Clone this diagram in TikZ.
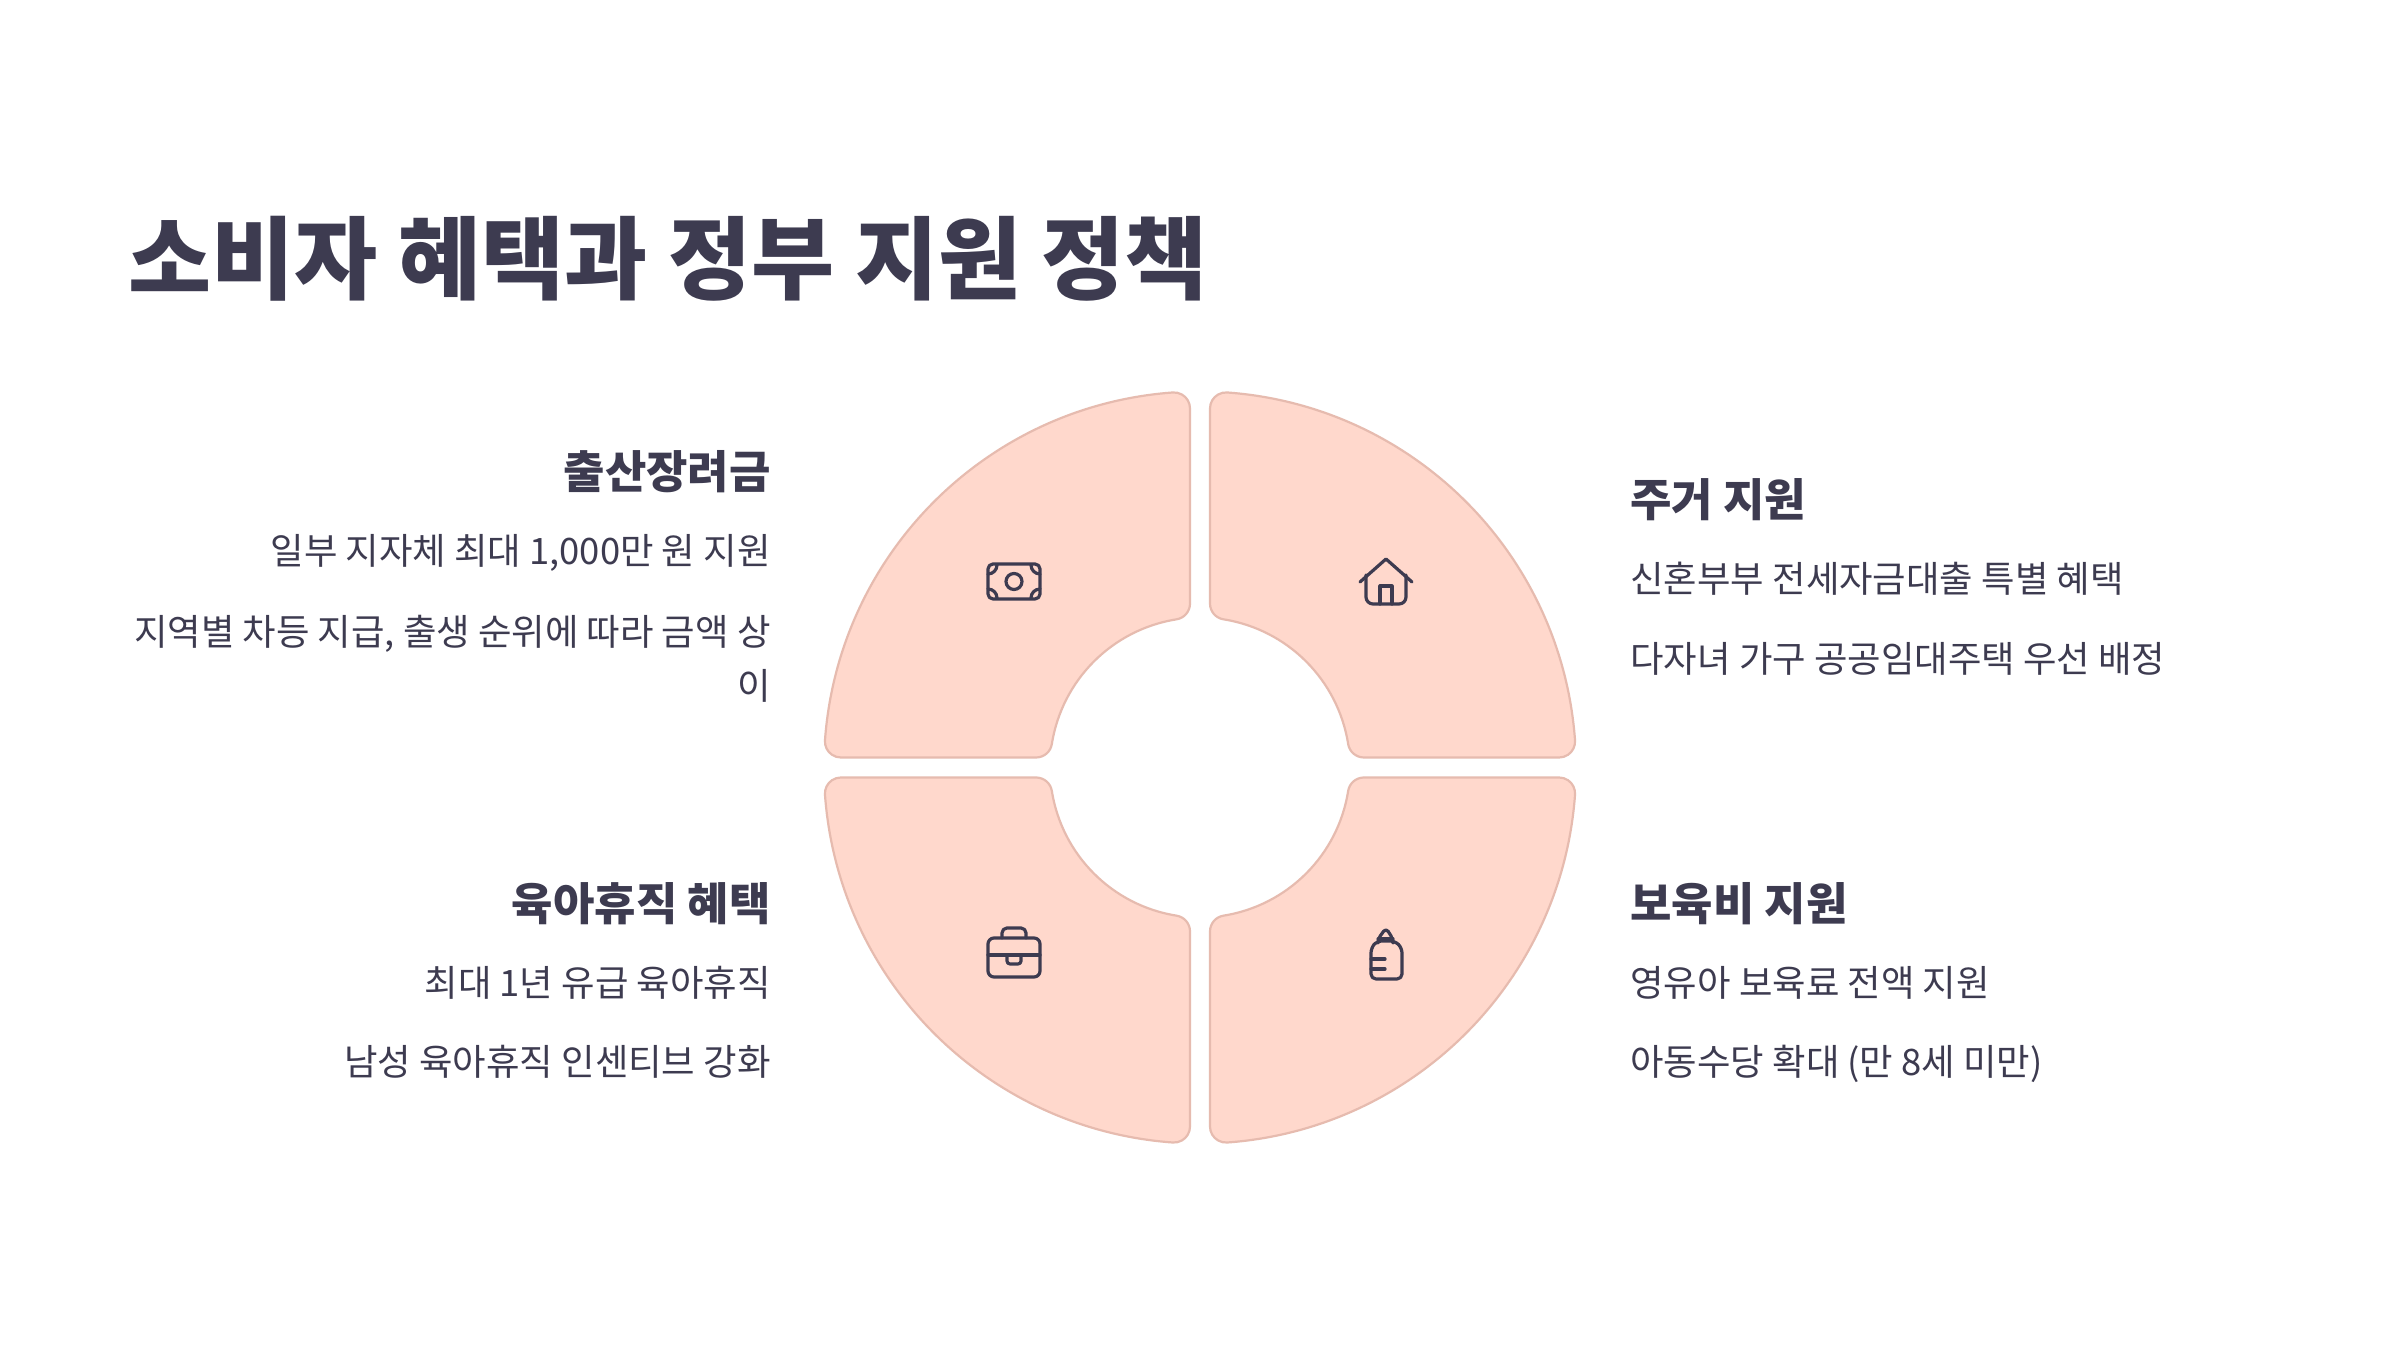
\documentclass[tikz,border=0pt]{standalone}
\usepackage{fontspec}
\setmainfont{Noto Sans CJK KR}
\definecolor{ink}{HTML}{3D3B50}
\definecolor{petal}{HTML}{FFD8CC}
\definecolor{petaledge}{HTML}{E6BBAF}
\tikzset{
  titletext/.style={font=\fontsize{45.15pt}{50pt}\bfseries,text=ink,inner sep=0pt},
  headleft/.style={font=\fontsize{22.5pt}{28pt}\bfseries,text=ink,inner sep=0pt,anchor=base east},
  headright/.style={font=\fontsize{22.5pt}{28pt}\bfseries,text=ink,inner sep=0pt,anchor=base west},
  bodyleft/.style={font=\fontsize{18.2pt}{24pt}\selectfont,text=ink,inner sep=0pt,anchor=base east},
  bodyright/.style={font=\fontsize{18.2pt}{24pt}\selectfont,text=ink,inner sep=0pt,anchor=base west},
  petalshape/.style={fill=petal,draw=petaledge,line width=1.1pt},
  icon/.style={draw=ink,line width=1.6pt,line cap=round,line join=round},
}
\newcommand{\petalpath}[2]{%
  \begin{scope}[shift={(1200,582.5)},xscale=#1,yscale=#2]
    \path[petalshape] (10,359.06)
      arc[start angle=180,end angle=85.86,radius=16]
      arc[start angle=85.86,end angle=4.14,radius=376]
      arc[start angle=4.14,end angle=-90,radius=16]
      -- (163.95,10)
      arc[start angle=-90,end angle=-170.99,radius=16]
      arc[start angle=9.01,end angle=80.99,radius=150]
      arc[start angle=260.99,end angle=180,radius=16]
      -- cycle;
  \end{scope}}
\begin{document}
\begin{tikzpicture}[x=0.5pt,y=0.5pt]
\useasboundingbox (0,0) rectangle (2400,1350);
\fill[white] (0,0) rectangle (2400,1350);
\petalpath{1}{1}\petalpath{-1}{1}\petalpath{1}{-1}\petalpath{-1}{-1}
% money icon
\draw[icon,rounded corners=2.5pt] (988,786) rectangle (1040,751);
\draw[icon] (1014,768.5) circle[radius=8];
\draw[icon] (988,776) arc[start angle=-90,end angle=0,radius=9];
\draw[icon] (1040,776) arc[start angle=-90,end angle=-180,radius=9];
\draw[icon] (988,761) arc[start angle=90,end angle=0,radius=9];
\draw[icon] (1040,761) arc[start angle=90,end angle=180,radius=9];
% house icon
\draw[icon] (1360,768) -- (1386,791) -- (1412,768);
\draw[icon,rounded corners=3.5pt] (1366,775) -- (1366,746) -- (1406,746) -- (1406,775);
\draw[icon] (1380,746) -- (1380,764) -- (1392,764) -- (1392,746);
% briefcase icon
\draw[icon,rounded corners=3pt] (988,412) rectangle (1040,373);
\draw[icon,rounded corners=2.5pt] (1002,412) -- (1002,422) -- (1026,422) -- (1026,412);
\draw[icon] (988,395) -- (1040,395);
\draw[icon,rounded corners=1.5pt] (1007,395) -- (1007,386) -- (1021,386) -- (1021,395);
% bottle icon
\draw[icon,rounded corners=2.5pt] (1371,371) -- (1402,371) -- (1402,402) -- (1395,409) -- (1377,409) -- (1371,402) -- cycle;
\draw[icon,rounded corners=2pt] (1378,409) -- (1378,411) -- (1386,422) -- (1393,411) -- (1393,409);
\draw[icon] (1378,411) -- (1393,411);
\draw[icon] (1371,391) -- (1385,391);
\draw[icon] (1371,381) -- (1385,381);
% title
\node[titletext,anchor=base west] (title) at (128,1057) {소비자 혜택과 정부 지원 정책};
% top-left
\node[headleft] (h1) at (771,861.5) {출산장려금};
\node[bodyleft] (b1a) at (771,785.5) {일부 지자체 최대 1,000만 원 지원};
\node[bodyleft] (b1b) at (771,704.5) {지역별 차등 지급, 출생 순위에 따라 금액 상};
\node[bodyleft] (b1c) at (771,650.5) {이};
% top-right
\node[headright] (h2) at (1630,833.5) {주거 지원};
\node[bodyright] (b2a) at (1630,757.5) {신혼부부 전세자금대출 특별 혜택};
\node[bodyright] (b2b) at (1630,677.5) {다자녀 가구 공공임대주택 우선 배정};
% bottom-left
\node[headleft] (h3) at (771,429.5) {육아휴직 혜택};
\node[bodyleft] (b3a) at (771,353.5) {최대 1년 유급 육아휴직};
\node[bodyleft] (b3b) at (771,274.5) {남성 육아휴직 인센티브 강화};
% bottom-right
\node[headright] (h4) at (1630,429.5) {보육비 지원};
\node[bodyright] (b4a) at (1630,353.5) {영유아 보육료 전액 지원};
\node[bodyright] (b4b) at (1630,274.5) {아동수당 확대 (만 8세 미만)};
\end{tikzpicture}
\end{document}
